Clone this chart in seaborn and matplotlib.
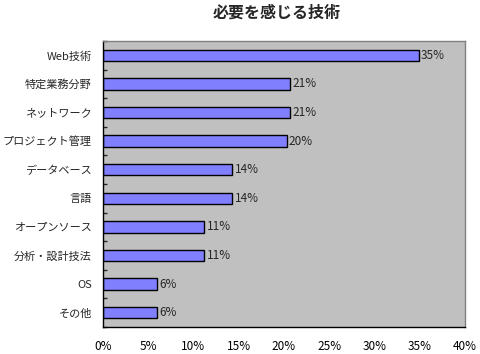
import matplotlib
matplotlib.use("Agg")
import matplotlib.pyplot as plt
import seaborn as sns
import pandas as pd
import numpy as np

title = "必要を感じる技術"
categories = ["Web技術", "特定業務分野", "ネットワーク", "プロジェクト管理", "データベース",
              "言語", "オープンソース", "分析・設計技法", "OS", "その他"]
values = [34.9, 20.7, 20.7, 20.3, 14.3, 14.3, 11.2, 11.2, 6.0, 6.0]
xticks = [0, 5, 10, 15, 20, 25, 30, 35, 40]

sns.set_style("white")
plt.rcParams['font.family'] = ['Noto Sans CJK JP', 'DejaVu Sans']

df = pd.DataFrame({"cat": categories, "val": values})

fig = plt.figure(figsize=(4.8, 3.54), dpi=100)
ax = fig.add_axes([103/480, 27/354, 362/480, 286/354])
ax.set_facecolor("#C0C0C0")
sns.barplot(data=df, x="val", y="cat", orient="h", color="#8080FF",
            edgecolor="black", linewidth=1.0, width=0.4, saturation=1, ax=ax)
for p in ax.patches:
    p.set_facecolor("#8080FF")

for i, v in enumerate(values):
    ax.text(v + 0.25, i, f"{round(v):d}%", va="center", ha="left", fontsize=8.5)

ax.set_xlim(0, 40)
ax.set_ylim(len(categories) - 0.5, -0.5)
ax.set_xticks(xticks)
ax.set_xticklabels([f"{t}%" for t in xticks], fontsize=8.5)
ax.tick_params(axis="x", direction="in", length=3, width=1, pad=9, colors="black")
ax.tick_params(axis="y", which="major", length=0, pad=8, labelsize=8)
ax.set_yticks(np.arange(len(categories) + 1) - 0.5, minor=True)
ax.tick_params(axis="y", which="minor", direction="in", length=3, width=1, left=True)
ax.set_xlabel("")
ax.set_ylabel("")
for s in ["left", "bottom"]:
    ax.spines[s].set_color("black")
    ax.spines[s].set_linewidth(1)
    ax.spines[s].set_visible(True)
for s in ["top", "right"]:
    ax.spines[s].set_color("#808080")
    ax.spines[s].set_linewidth(1)
    ax.spines[s].set_visible(True)

fig.text(277/480, 1 - 13/354, title, ha="center", va="center",
         fontsize=11.5, fontweight="bold")

fig.savefig("out.png", dpi=100, facecolor="white")
